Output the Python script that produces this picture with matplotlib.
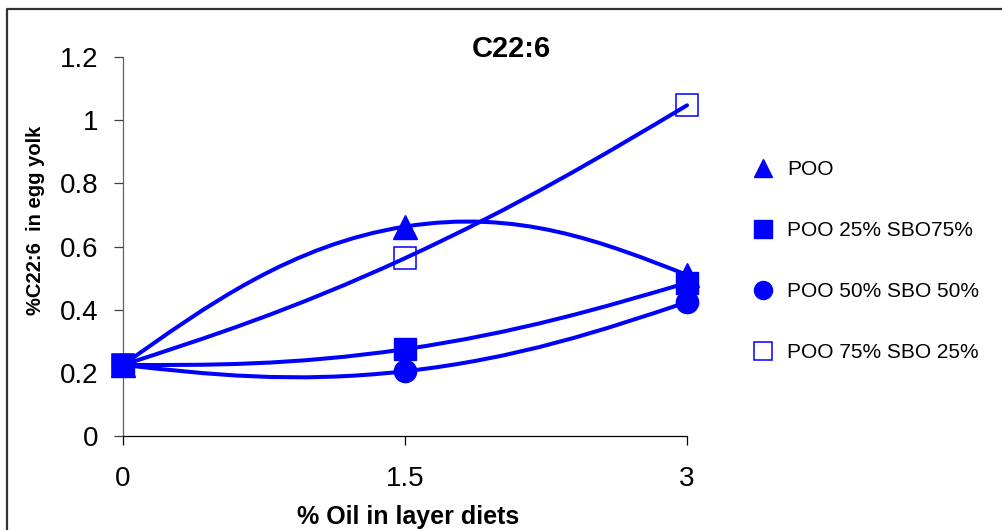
import matplotlib
matplotlib.use("Agg")
import matplotlib.pyplot as plt
from matplotlib.path import Path
from matplotlib.patches import PathPatch
from matplotlib.lines import Line2D
import numpy as np

plt.rcParams['font.family'] = ['Liberation Sans', 'DejaVu Sans']

# --- data -------------------------------------------------------------
oil_levels = [0, 1.5, 3]
x_tick_labels = ['0', '1.5', '3']
y_ticks = [0, 0.2, 0.4, 0.6, 0.8, 1.0, 1.2]
y_tick_labels = ['0', '0.2', '0.4', '0.6', '0.8', '1', '1.2']

series_names = ['POO', 'POO 25% SBO75%', 'POO 50% SBO 50%', 'POO 75% SBO 25%']
poo = [0.225, 0.663, 0.51]
poo25_sbo75 = [0.225, 0.275, 0.485]
poo50_sbo50 = [0.225, 0.205, 0.424]
poo75_sbo25 = [0.225, 0.563, 1.047]

BLUE = '#0000FF'


def smooth_path(xs, ys, k=0.2):
    """Smoothed line: cubic Bezier segments through the points, with
    cardinal-spline tangents inside and natural (zero-curvature) ends."""
    pts = np.column_stack([xs, ys]).astype(float)
    n = len(pts)
    # interior tangent handles
    ctrl = []
    for i in range(n - 1):
        p1, p2 = pts[i], pts[i + 1]
        c1 = p1 + k * (pts[i + 1] - pts[i - 1]) if i > 0 else None
        c2 = p2 - k * (pts[i + 2] - pts[i]) if i + 2 < n else None
        ctrl.append([c1, c2])
    # natural end conditions
    if ctrl[0][0] is None:
        c2 = ctrl[0][1] if ctrl[0][1] is not None else pts[1]
        ctrl[0][0] = (pts[0] + c2) / 2
    if ctrl[-1][1] is None:
        c1 = ctrl[-1][0]
        ctrl[-1][1] = (pts[-1] + c1) / 2
    verts = [pts[0]]
    codes = [Path.MOVETO]
    for i in range(n - 1):
        verts += [ctrl[i][0], ctrl[i][1], pts[i + 1]]
        codes += [Path.CURVE4] * 3
    return Path(verts, codes)


fig = plt.figure(figsize=(10.02, 5.30), dpi=100)
W, H = 1002, 530
ax = fig.add_axes([123 / W, 1 - 436 / H, 564 / W, 379 / H])

styles = [
    dict(marker='^', ms=17, mfc=BLUE, mec=BLUE, mew=1),
    dict(marker='s', ms=15.5, mfc=BLUE, mec=BLUE, mew=1),
    dict(marker='o', ms=16, mfc=BLUE, mec=BLUE, mew=1),
    dict(marker='s', ms=16.5, mfc='none', mec=BLUE, mew=1.1),
]
all_series = [poo, poo25_sbo75, poo50_sbo50, poo75_sbo25]

for vals, st in zip(all_series, styles):
    patch = PathPatch(smooth_path(oil_levels, vals), fill=False,
                      edgecolor=BLUE, lw=2.9, capstyle='round',
                      joinstyle='round', transform=ax.transData, zorder=2)
    patch.set_clip_on(False)
    ax.add_patch(patch)
    ax.plot(oil_levels, vals, linestyle='None', clip_on=False, zorder=3, **st)

ax.set_xlim(0, 3)
ax.set_ylim(0, 1.2)
ax.set_xticks(oil_levels)
ax.set_xticklabels(x_tick_labels)
ax.set_yticks(y_ticks)
ax.set_yticklabels(y_tick_labels)

for side in ('top', 'right'):
    ax.spines[side].set_visible(False)
ax.spines['left'].set_color('#606060')
ax.spines['left'].set_linewidth(0.9)
ax.spines['bottom'].set_color('black')
ax.spines['bottom'].set_linewidth(0.9)

ax.tick_params(axis='y', direction='out', length=6.5, width=0.9,
               color='#404040', labelsize=20, pad=11)
ax.tick_params(axis='x', direction='out', length=6.5, width=0.9,
               color='black', labelsize=20, pad=15)

ax.set_ylabel('%C22:6  in egg yolk', fontsize=14.5, fontweight='bold')
ax.yaxis.set_label_coords(-0.156, 0.57)
ax.yaxis.label.set_verticalalignment('center')

ax.set_xlabel('% Oil in layer diets', fontsize=18, fontweight='bold')
ax.xaxis.set_label_coords(0.505, (436 - 524) / 379)
ax.xaxis.label.set_verticalalignment('baseline')

fig.text(511 / W, 1 - 56.7 / H, 'C22:6', fontsize=21, fontweight='bold',
         ha='center', va='baseline')

# legend with markers only
handles = [
    Line2D([], [], linestyle='None', marker='^', ms=13.5, mfc=BLUE, mec=BLUE),
    Line2D([], [], linestyle='None', marker='s', ms=12.5, mfc=BLUE, mec=BLUE),
    Line2D([], [], linestyle='None', marker='o', ms=13, mfc=BLUE, mec=BLUE),
    Line2D([], [], linestyle='None', marker='s', ms=13, mfc='none', mec=BLUE, mew=1.1),
]
fig.legend(handles, series_names, loc='upper left',
           bbox_to_anchor=(752.6 / W, 1 - 160 / H), frameon=False,
           fontsize=15, handlelength=1.0, handletextpad=0.65,
           labelspacing=2.02, borderpad=0, borderaxespad=0)

# chart-area border (top and left edges)
fig.add_artist(Line2D([7 / W, 7 / W, 1.0], [0.0, 1 - 9 / H, 1 - 9 / H],
                      transform=fig.transFigure, color='#333333', lw=1.6))

fig.savefig('out.png', dpi=100)
